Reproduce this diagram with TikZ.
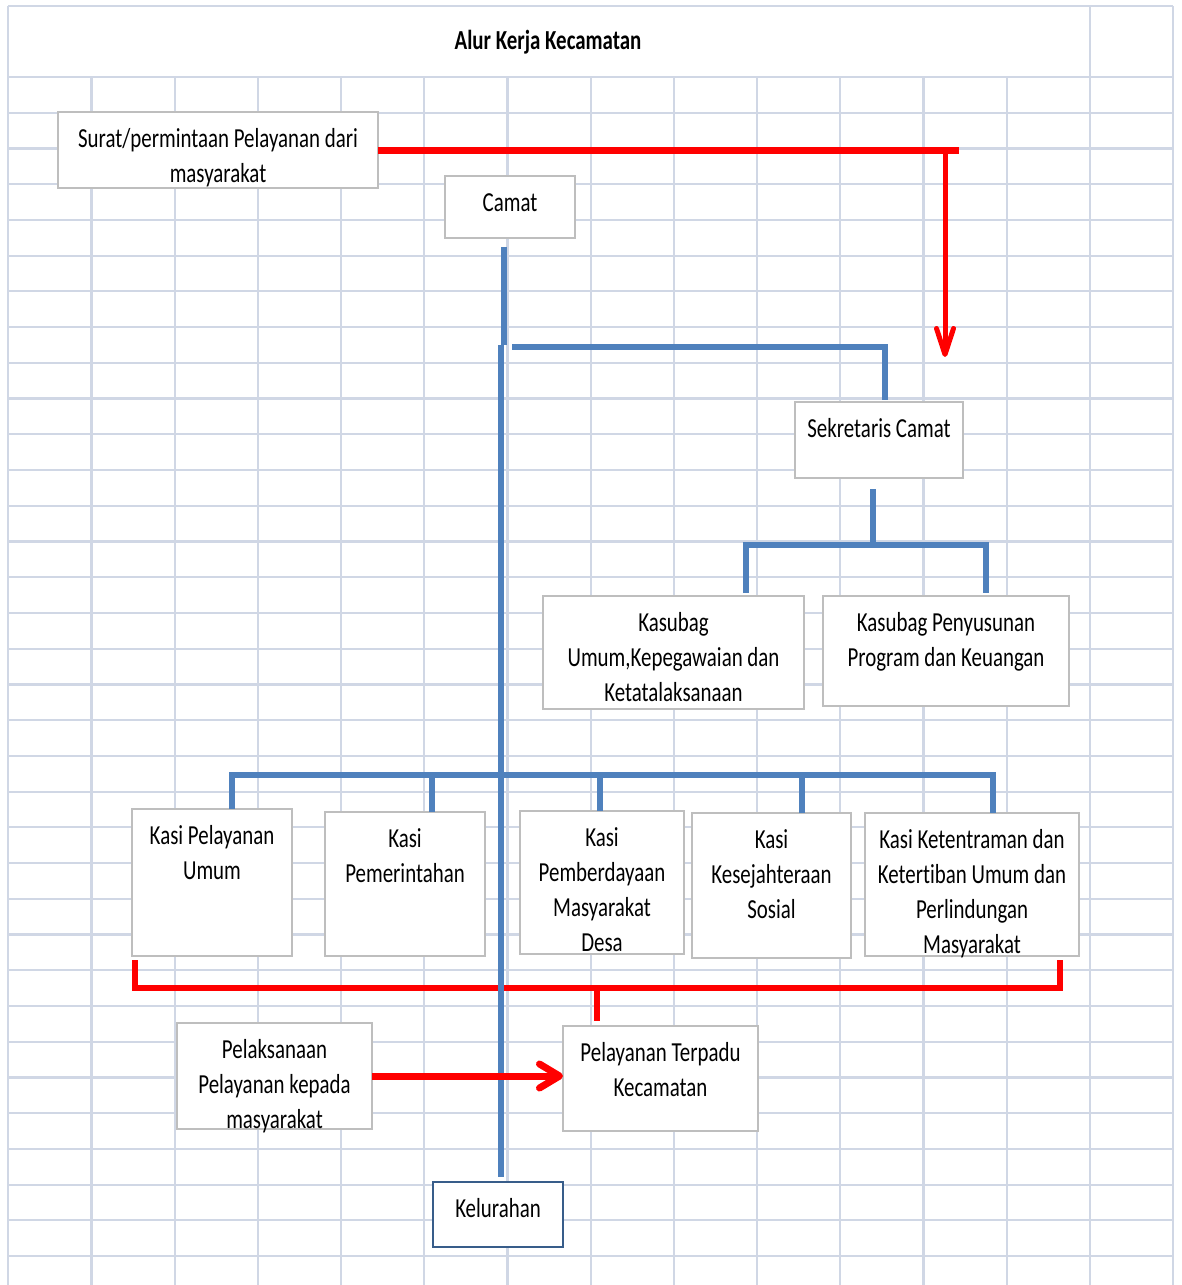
\documentclass[tikz,border=0pt]{standalone}
\usepackage{fontspec}
\setmainfont{Carlito}[FakeStretch=0.76, Ligatures=NoCommon]
\usepackage{tikz}
\usetikzlibrary{arrows.meta,calc,positioning}
\definecolor{gridgrey}{RGB}{208,215,229}
\definecolor{boxgrey}{RGB}{190,190,190}
\definecolor{orgblue}{RGB}{79,129,189}
\definecolor{navy}{RGB}{56,93,138}
\tikzset{
        block/.style = {draw=boxgrey, line width=2.5pt, fill=white, rectangle,
            inner sep=0pt, outer sep=0pt, anchor=north west},
        caption/.style = {label={[anchor=north, yshift=-10.5pt, align=center,
            inner sep=0pt]north:\strut #1}},
        orgline/.style = {draw=orgblue, line width=6.5pt},
        flow/.style = {draw=red, line width=7pt},
        gridline/.style = {draw=gridgrey, line width=2.2pt},
    }

\begin{document}
\begin{tikzpicture}[x=1pt, y=-1pt, font=\fontsize{27.5}{35}\selectfont]
\useasboundingbox (0,0) rectangle (1182,1285);
\fill[white] (0,0) rectangle (1182,1285);
% lembar kerja
\foreach \i in {0,...,14}
    \draw[gridline] ({8.3+83.2*\i},77) -- ({8.3+83.2*\i},1285);
\foreach \i in {0,13,14}
    \draw[gridline] ({8.3+83.2*\i},6) -- ({8.3+83.2*\i},77);
\draw[gridline] (8.3,6) -- (1173.1,6);
\foreach \j in {0,...,33}
    \draw[gridline] (8.3,{77+35.73*\j}) -- (1173.1,{77+35.73*\j});

\node[font=\fontsize{27.5}{35}\selectfont\bfseries] (judul) at (548,42) {Alur Kerja Kecamatan};

\node[block, minimum width=320pt, minimum height=76pt,
    caption={Surat/permintaan Pelayanan dari\\masyarakat}] (surat) at (58,112) {};
\node[block, minimum width=130pt, minimum height=62pt, caption={Camat}] (camat) at (445,176) {};
\node[block, minimum width=168pt, minimum height=76pt, caption={Sekretaris Camat}] (sekcam) at (795,402) {};
\node[block, minimum width=261pt, minimum height=113pt,
    caption={Kasubag\\{Umum,Kepegawaian dan}\\Ketatalaksanaan}] (kasubag1) at (543,596) {};
\node[block, minimum width=246pt, minimum height=110pt,
    caption={Kasubag Penyusunan\\Program dan Keuangan}] (kasubag2) at (823,596) {};
\node[block, minimum width=160pt, minimum height=147pt,
    caption={Kasi Pelayanan\\Umum}] (kasi1) at (132,809) {};
\node[block, minimum width=160pt, minimum height=144pt,
    caption={Kasi\\Pemerintahan}] (kasi2) at (325,812) {};
\node[block, minimum width=164pt, minimum height=143pt,
    caption={Kasi\\Pemberdayaan\\Masyarakat\\Desa}] (kasi3) at (520,811) {};
\node[block, minimum width=159pt, minimum height=145pt,
    caption={Kasi\\Kesejahteraan\\Sosial}] (kasi4) at (692,813) {};
\node[block, minimum width=214pt, minimum height=143pt,
    caption={Kasi Ketentraman dan\\Ketertiban Umum dan\\Perlindungan\\Masyarakat}] (kasi5) at (865,813) {};
\node[block, minimum width=195pt, minimum height=106pt,
    caption={Pelaksanaan\\Pelayanan kepada\\masyarakat}] (pelaksanaan) at (177,1023) {};
\node[block, minimum width=195pt, minimum height=105pt,
    caption={Pelayanan Terpadu\\Kecamatan}] (terpadu) at (563,1026) {};
\node[block, draw=navy, minimum width=130pt, minimum height=65pt, caption={Kelurahan}] (kelurahan) at (433,1182) {};

% alur surat masuk
\coordinate (flowend) at (959,150);
\coordinate (flowturn) at (945,150);
\coordinate (flowtip) at (945,357);
\draw[flow] (surat.east) -- (flowend);
\draw[flow, line width=5pt, -{Straight Barb[round, length=26pt, width=17pt]}] (flowturn) -- (flowtip);

% garis kasi ke pelayanan terpadu
\coordinate (redbus) at (597,988);
\draw[flow, line width=6pt] ([xshift=3pt,yshift=-4pt]kasi1.south west) |- (redbus)
    -| ([xshift=-19pt,yshift=-4pt]kasi5.south east);
\draw[flow, line width=6pt] (redbus) -- ++(0,33);

% struktur organisasi
\coordinate (split) at (504,345);
\coordinate (trunk) at (501,345);
\coordinate (subbus) at (873,545);
\coordinate (kasibus) at (501,775);
\draw[orgline] ([xshift=-6pt,yshift=-9pt]camat.south) -- (split);
\draw[orgline] (512,347) -| ([xshift=6pt,yshift=2pt]sekcam.north);
\draw[orgline] ([xshift=-6pt,yshift=-11pt]sekcam.south) -- (subbus);
\draw[orgline] ([xshift=72.5pt,yshift=3pt]kasubag1.north) |- (subbus)
    -| ([xshift=40pt,yshift=3pt]kasubag2.north);
\draw[orgline] ([xshift=20pt]kasi1.north) |- (kasibus) -| ([xshift=21pt]kasi5.north);
\foreach \n/\dx/\dy in {kasi2/27/-37, kasi3/-2/-36, kasi4/30.5/-38}
    \draw[orgline] ([xshift=\dx pt]\n.north) -- ++(0,\dy);
\draw[orgline] (trunk) -- ([xshift=3pt,yshift=5pt]kelurahan.north);

\draw[flow, -{Straight Barb[round, length=20pt, width=24pt]}] (pelaksanaan.east) -- (pelaksanaan.east -| terpadu.west);
\end{tikzpicture}
\end{document}
